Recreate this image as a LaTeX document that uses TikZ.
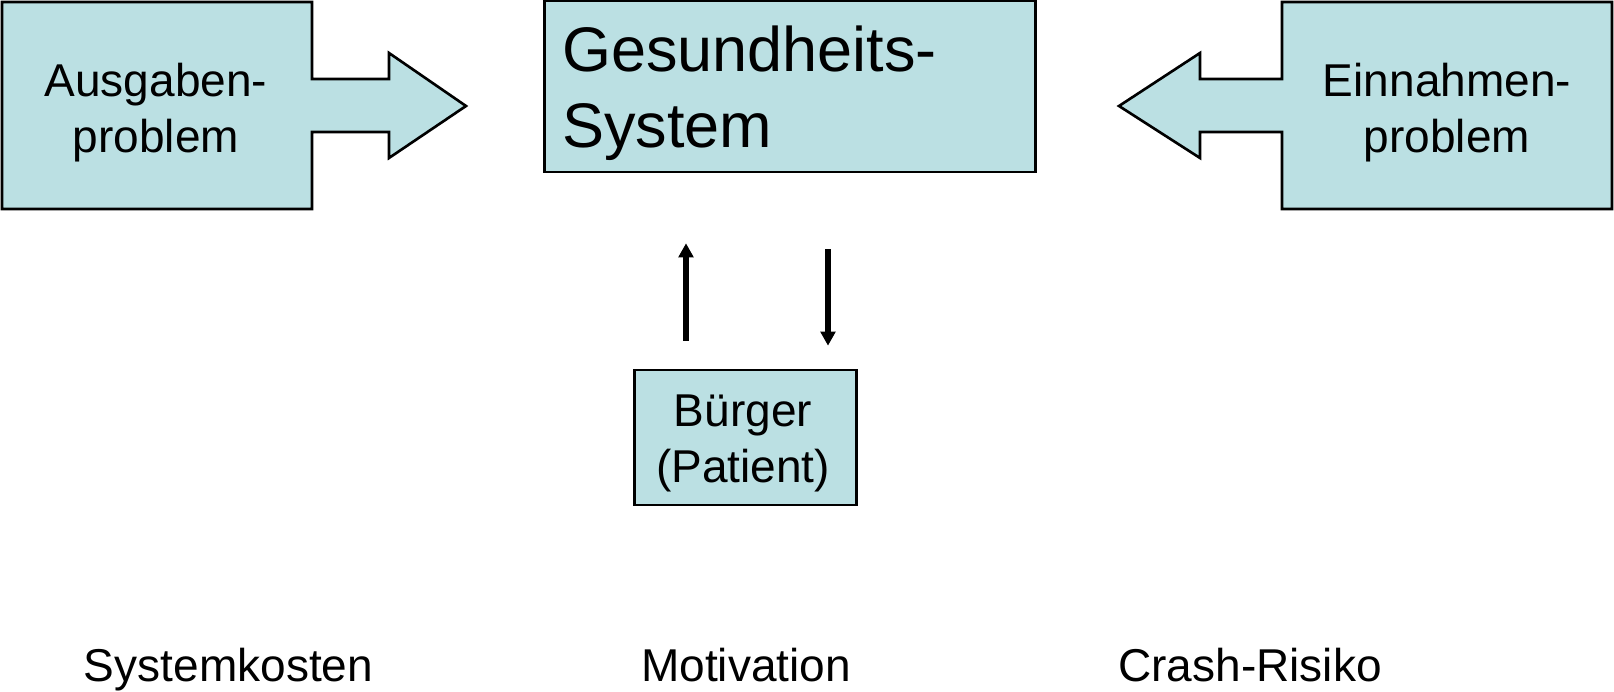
\documentclass[tikz,border=0pt]{standalone}
\usepackage{fontspec}
\setmainfont{Liberation Sans}
\definecolor{boxcyan}{RGB}{187, 224, 227}
\usetikzlibrary{arrows.meta, positioning, calc}

\begin{document}
\begin{tikzpicture}[x=0.02cm, y=-0.02cm,
  box/.style={draw=black, fill=boxcyan, line width=1.5pt, line join=miter},
  txt/.style={inner sep=0pt, align=center, font=\fontsize{26.2}{31.9}\selectfont},
  arr/.style={line width=3.4pt, -{Triangle[length=0.28cm, width=0.29cm]}},
]
  \useasboundingbox (0,0) rectangle (1614,692);

  % Ausgaben (box with block arrow)
  \draw[box] (2,2) -- (312,2) -- (312,79) -- (389,79) -- (389,53) -- (466,106) -- (389,158)
    -- (389,132) -- (312,132) -- (312,209) -- (2,209) -- cycle;
  \node[txt] (ausg) at (156,113) {Ausgaben-\\problem};

  % Einnahmen (box with block arrow)
  \draw[box] (1612,2) -- (1282,2) -- (1282,79) -- (1200,79) -- (1200,53) -- (1119,106) -- (1200,158)
    -- (1200,132) -- (1282,132) -- (1282,209) -- (1612,209) -- cycle;
  \node[txt] (einn) at (1447,113) {Einnahmen-\\problem};

  % System
  \node[box, minimum width=9.82cm, minimum height=3.42cm] (ges) at (790,86.5) {};
  \node[txt, align=left, anchor=west, font=\fontsize{35.85}{43.25}\selectfont] (gestext) at (562,93.7) {Gesundheits-\\System};

  % Buerger
  \node[box, minimum width=4.44cm, minimum height=2.7cm] (buerger) at (745.5,437.5) {};
  \node[txt] (buergertext) at (743,443) {Bürger\\(Patient)};

  \coordinate (upx) at (686,0);
  \coordinate (downx) at (828,0);
  \draw[arr, shorten <=0.56cm, shorten >=1.4cm] (upx |- buerger.north) -- (upx |- ges.south);
  \draw[arr, shorten <=1.52cm, shorten >=0.46cm] (downx |- ges.south) -- (downx |- buerger.north);

  % Bottom row
  \node[txt, anchor=base] (kosten) at (228.5,682) {Systemkosten};
  \node[txt, anchor=base] (motiv) at (746,682) {Motivation};
  \node[txt, anchor=base] (risiko) at (1250,682) {Crash-Risiko};
\end{tikzpicture}
\end{document}
